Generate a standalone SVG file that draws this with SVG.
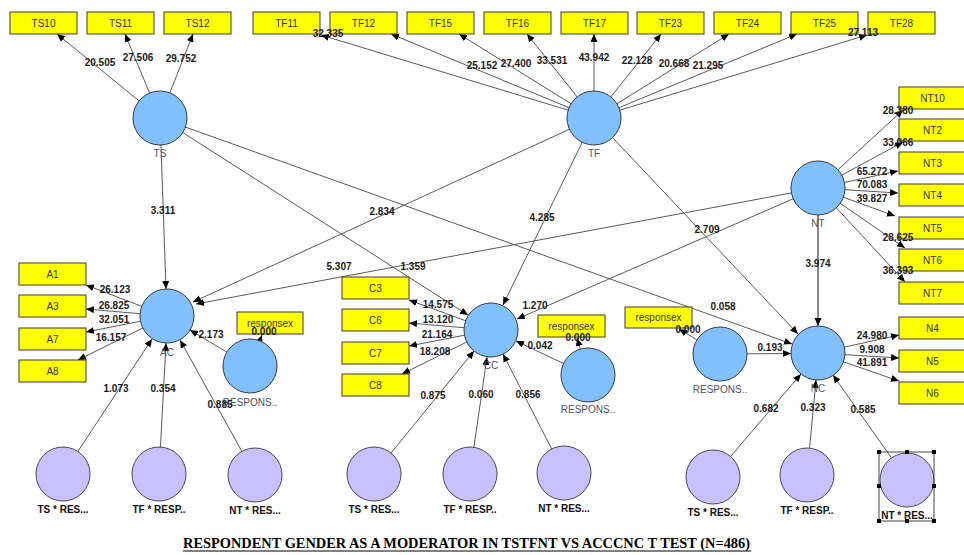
<svg xmlns="http://www.w3.org/2000/svg" width="964" height="555" viewBox="0 0 964 555">
<style>
.ln{stroke:#5a5a5a;stroke-width:1;fill:none;marker-end:url(#ah)}
.box{fill:#ffff00;stroke:#3a3a3a;stroke-width:1}
.bt{font-family:"Liberation Sans",Arial,sans-serif;font-size:10px;fill:#333;text-anchor:middle}
.lv{fill:#80c0ff;stroke:#3a3a3a;stroke-width:1}
.mod{fill:#c8c0ff;stroke:#4a4a4a;stroke-width:1}
.cl{font-family:"Liberation Sans",Arial,sans-serif;font-size:10px;fill:#4a5266;text-anchor:middle}
.num{font-family:"Liberation Sans",Arial,sans-serif;font-size:10px;font-weight:bold;fill:#1a1a1a;text-anchor:middle}
.bl{font-family:"Liberation Sans",Arial,sans-serif;font-size:10px;font-weight:bold;fill:#111;text-anchor:middle}
.hd{fill:#000}
</style>
<defs>
<marker id="ah" markerUnits="userSpaceOnUse" markerWidth="9" markerHeight="8" refX="8" refY="3.5" orient="auto">
<path d="M0,0 L8,3.5 L0,7 z" fill="#000"/>
</marker>
</defs>
<rect width="964" height="555" fill="#fff"/>
<g id="connectors">
<line class="ln" x1="160" y1="118" x2="57" y2="34"/>
<line class="ln" x1="160" y1="118" x2="125" y2="34"/>
<line class="ln" x1="160" y1="118" x2="193" y2="34"/>
<line class="ln" x1="594" y1="118" x2="321" y2="35"/>
<line class="ln" x1="594" y1="118" x2="391" y2="34"/>
<line class="ln" x1="594" y1="118" x2="459" y2="34"/>
<line class="ln" x1="594" y1="118" x2="527" y2="34"/>
<line class="ln" x1="594" y1="118" x2="594" y2="34"/>
<line class="ln" x1="594" y1="118" x2="661" y2="34"/>
<line class="ln" x1="594" y1="118" x2="729" y2="34"/>
<line class="ln" x1="594" y1="118" x2="797" y2="34"/>
<line class="ln" x1="594" y1="118" x2="867" y2="35"/>
<line class="ln" x1="818" y1="188" x2="903" y2="110"/>
<line class="ln" x1="818" y1="188" x2="903" y2="142"/>
<line class="ln" x1="818" y1="188" x2="898" y2="171"/>
<line class="ln" x1="818" y1="188" x2="898" y2="193"/>
<line class="ln" x1="818" y1="188" x2="895" y2="216"/>
<line class="ln" x1="818" y1="188" x2="905" y2="248"/>
<line class="ln" x1="818" y1="188" x2="905" y2="282"/>
<line class="ln" x1="818" y1="353" x2="899" y2="335"/>
<line class="ln" x1="818" y1="353" x2="899" y2="358"/>
<line class="ln" x1="818" y1="353" x2="899" y2="381"/>
<line class="ln" x1="167" y1="316" x2="86" y2="285"/>
<line class="ln" x1="167" y1="316" x2="86" y2="309"/>
<line class="ln" x1="167" y1="316" x2="86" y2="332"/>
<line class="ln" x1="167" y1="316" x2="78" y2="360"/>
<line class="ln" x1="491" y1="330" x2="409" y2="300"/>
<line class="ln" x1="491" y1="330" x2="409" y2="323"/>
<line class="ln" x1="491" y1="330" x2="409" y2="346"/>
<line class="ln" x1="491" y1="330" x2="402" y2="374"/>
<line class="ln" x1="160" y1="118" x2="166" y2="289"/>
<line class="ln" x1="594" y1="118" x2="193" y2="302"/>
<line class="ln" x1="818" y1="188" x2="196" y2="304"/>
<line class="ln" x1="160" y1="118" x2="468" y2="315"/>
<line class="ln" x1="160" y1="118" x2="792" y2="344"/>
<line class="ln" x1="594" y1="118" x2="503" y2="305"/>
<line class="ln" x1="594" y1="118" x2="798" y2="334"/>
<line class="ln" x1="818" y1="188" x2="517" y2="319"/>
<line class="ln" x1="818" y1="188" x2="818" y2="326" style="stroke:#111"/>
<line class="ln" x1="250" y1="366" x2="190" y2="330"/>
<line class="ln" x1="588" y1="375" x2="516" y2="341"/>
<line class="ln" x1="720" y1="354" x2="791" y2="353.5"/>
<line class="ln" x1="250" y1="366" x2="262" y2="335"/>
<line class="ln" x1="588" y1="375" x2="577" y2="338"/>
<line class="ln" x1="720" y1="354" x2="679" y2="329"/>
<line class="ln" x1="63" y1="474" x2="152" y2="339"/>
<line class="ln" x1="159" y1="474" x2="166" y2="343"/>
<line class="ln" x1="255" y1="475" x2="180" y2="340"/>
<line class="ln" x1="374" y1="474" x2="474" y2="351"/>
<line class="ln" x1="470" y1="474" x2="487" y2="357"/>
<line class="ln" x1="564" y1="473" x2="503" y2="354"/>
<line class="ln" x1="713" y1="477" x2="801" y2="374"/>
<line class="ln" x1="807" y1="475" x2="816" y2="380"/>
<line class="ln" x1="907" y1="480" x2="833" y2="375"/>
</g>
<g id="indicators">
<g id="TS10"><rect class="box" x="10" y="12" width="67" height="22"/><text class="bt" x="43.5" y="26.5">TS10</text></g>
<g id="TS11"><rect class="box" x="87" y="12" width="67" height="22"/><text class="bt" x="120.5" y="26.5">TS11</text></g>
<g id="TS12"><rect class="box" x="164" y="12" width="67" height="22"/><text class="bt" x="197.5" y="26.5">TS12</text></g>
<g id="TF11"><rect class="box" x="253" y="12" width="67" height="22"/><text class="bt" x="286.5" y="26.5">TF11</text></g>
<g id="TF12"><rect class="box" x="330" y="12" width="67" height="22"/><text class="bt" x="363.5" y="26.5">TF12</text></g>
<g id="TF15"><rect class="box" x="407" y="12" width="67" height="22"/><text class="bt" x="440.5" y="26.5">TF15</text></g>
<g id="TF16"><rect class="box" x="484" y="12" width="67" height="22"/><text class="bt" x="517.5" y="26.5">TF16</text></g>
<g id="TF17"><rect class="box" x="561" y="12" width="67" height="22"/><text class="bt" x="594.5" y="26.5">TF17</text></g>
<g id="TF23"><rect class="box" x="637" y="12" width="67" height="22"/><text class="bt" x="670.5" y="26.5">TF23</text></g>
<g id="TF24"><rect class="box" x="714" y="12" width="67" height="22"/><text class="bt" x="747.5" y="26.5">TF24</text></g>
<g id="TF25"><rect class="box" x="791" y="12" width="67" height="22"/><text class="bt" x="824.5" y="26.5">TF25</text></g>
<g id="TF28"><rect class="box" x="868" y="12" width="67" height="22"/><text class="bt" x="901.5" y="26.5">TF28</text></g>
<g id="NT10"><rect class="box" x="899" y="87" width="67" height="22"/><text class="bt" x="932.5" y="101.5">NT10</text></g>
<g id="NT2"><rect class="box" x="899" y="119" width="67" height="22"/><text class="bt" x="932.5" y="133.5">NT2</text></g>
<g id="NT3"><rect class="box" x="899" y="152" width="67" height="22"/><text class="bt" x="932.5" y="166.5">NT3</text></g>
<g id="NT4"><rect class="box" x="899" y="184" width="67" height="22"/><text class="bt" x="932.5" y="198.5">NT4</text></g>
<g id="NT5"><rect class="box" x="899" y="217" width="67" height="22"/><text class="bt" x="932.5" y="231.5">NT5</text></g>
<g id="NT6"><rect class="box" x="899" y="249" width="67" height="22"/><text class="bt" x="932.5" y="263.5">NT6</text></g>
<g id="NT7"><rect class="box" x="899" y="282" width="67" height="22"/><text class="bt" x="932.5" y="296.5">NT7</text></g>
<g id="N4"><rect class="box" x="899" y="317" width="67" height="22"/><text class="bt" x="932.5" y="331.5">N4</text></g>
<g id="N5"><rect class="box" x="899" y="350" width="67" height="22"/><text class="bt" x="932.5" y="364.5">N5</text></g>
<g id="N6"><rect class="box" x="899" y="382" width="67" height="22"/><text class="bt" x="932.5" y="396.5">N6</text></g>
<g id="A1"><rect class="box" x="19" y="263" width="67" height="22"/><text class="bt" x="52.5" y="277.5">A1</text></g>
<g id="A3"><rect class="box" x="19" y="295" width="67" height="22"/><text class="bt" x="52.5" y="309.5">A3</text></g>
<g id="A7"><rect class="box" x="19" y="328" width="67" height="22"/><text class="bt" x="52.5" y="342.5">A7</text></g>
<g id="A8"><rect class="box" x="19" y="360" width="67" height="22"/><text class="bt" x="52.5" y="374.5">A8</text></g>
<g id="C3"><rect class="box" x="342" y="277" width="67" height="22"/><text class="bt" x="375.5" y="291.5">C3</text></g>
<g id="C6"><rect class="box" x="342" y="309" width="67" height="22"/><text class="bt" x="375.5" y="323.5">C6</text></g>
<g id="C7"><rect class="box" x="342" y="342" width="67" height="22"/><text class="bt" x="375.5" y="356.5">C7</text></g>
<g id="C8"><rect class="box" x="342" y="374" width="67" height="22"/><text class="bt" x="375.5" y="388.5">C8</text></g>
<g id="responsex1"><rect class="box" x="237" y="312" width="66" height="22"/><text class="bt" x="270" y="326.5">responsex</text></g>
<g id="responsex2"><rect class="box" x="538" y="315" width="67" height="22"/><text class="bt" x="571.5" y="329.5">responsex</text></g>
<g id="responsex3"><rect class="box" x="625" y="307" width="67" height="21"/><text class="bt" x="658.5" y="321">responsex</text></g>
</g>
<g id="constructs">
<g id="TS"><circle class="lv" cx="160" cy="118" r="27"/><text class="cl" x="160" y="157">TS</text></g>
<g id="TF"><circle class="lv" cx="594" cy="118" r="27"/><text class="cl" x="594" y="157">TF</text></g>
<g id="NT"><circle class="lv" cx="818" cy="188" r="27"/><text class="cl" x="818" y="227">NT</text></g>
<g id="AC"><circle class="lv" cx="167" cy="316" r="27"/><text class="cl" x="167" y="356">AC</text></g>
<g id="CC"><circle class="lv" cx="491" cy="330" r="27"/><text class="cl" x="491" y="369">CC</text></g>
<g id="NC"><circle class="lv" cx="818" cy="353" r="27"/><text class="cl" x="818" y="392">NC</text></g>
<g id="RESPONS1"><circle class="lv" cx="250" cy="366" r="27"/><text class="cl" x="250" y="406">RESPONS..</text></g>
<g id="RESPONS2"><circle class="lv" cx="588" cy="375" r="27"/><text class="cl" x="588" y="413">RESPONS..</text></g>
<g id="RESPONS3"><circle class="lv" cx="720" cy="354" r="27"/><text class="cl" x="720" y="393">RESPONS..</text></g>
<g id="TSxR1"><circle class="mod" cx="63" cy="474" r="27"/><text class="bl" x="63" y="513">TS * RES...</text></g>
<g id="TFxR1"><circle class="mod" cx="159" cy="474" r="27"/><text class="bl" x="159" y="513">TF * RESP..</text></g>
<g id="NTxR1"><circle class="mod" cx="255" cy="475" r="27"/><text class="bl" x="255" y="514">NT * RES...</text></g>
<g id="TSxR2"><circle class="mod" cx="374" cy="474" r="27"/><text class="bl" x="374" y="513">TS * RES...</text></g>
<g id="TFxR2"><circle class="mod" cx="470" cy="474" r="27"/><text class="bl" x="470" y="513">TF * RESP..</text></g>
<g id="NTxR2"><circle class="mod" cx="564" cy="473" r="27"/><text class="bl" x="564" y="512">NT * RES...</text></g>
<g id="TSxR3"><circle class="mod" cx="713" cy="477" r="27"/><text class="bl" x="713" y="516">TS * RES...</text></g>
<g id="TFxR3"><circle class="mod" cx="807" cy="475" r="27"/><text class="bl" x="807" y="514">TF * RESP..</text></g>
<g id="NTxR3"><circle class="mod" cx="907" cy="480" r="27"/><text class="bl" x="907" y="519">NT * RES...</text>
<rect x="879" y="452" width="55" height="69" fill="none" stroke="#444" stroke-width="1"/>
<rect class="hd" x="877" y="450" width="4" height="4"/><rect class="hd" x="905" y="450" width="4" height="4"/><rect class="hd" x="932" y="450" width="4" height="4"/>
<rect class="hd" x="877" y="484" width="4" height="4"/><rect class="hd" x="932" y="484" width="4" height="4"/>
<rect class="hd" x="877" y="519" width="4" height="4"/><rect class="hd" x="905" y="519" width="4" height="4"/><rect class="hd" x="932" y="519" width="4" height="4"/>
</g>
</g>
<g id="connector-labels">
<text class="num" x="100" y="65.5">20.505</text>
<text class="num" x="138" y="60.5">27.506</text>
<text class="num" x="181" y="61.5">29.752</text>
<text class="num" x="328" y="36.5">32.335</text>
<text class="num" x="482" y="68.5">25.152</text>
<text class="num" x="516" y="66.5">27.400</text>
<text class="num" x="552" y="63.5">33.531</text>
<text class="num" x="594" y="60.5">43.942</text>
<text class="num" x="637" y="63.5">22.128</text>
<text class="num" x="674" y="66.5">20.668</text>
<text class="num" x="708" y="68.5">21.295</text>
<text class="num" x="863" y="35.5">27.113</text>
<text class="num" x="898" y="113.5">28.380</text>
<text class="num" x="898" y="145.5">33.066</text>
<text class="num" x="872" y="174.5">65.272</text>
<text class="num" x="872" y="187.5">70.083</text>
<text class="num" x="872" y="201.5">39.827</text>
<text class="num" x="898" y="240.5">28.625</text>
<text class="num" x="898" y="273.5">36.393</text>
<text class="num" x="818" y="266.5">3.974</text>
<text class="num" x="872" y="338.5">24.980</text>
<text class="num" x="872" y="352.5">9.908</text>
<text class="num" x="872" y="365.5">41.891</text>
<text class="num" x="115" y="292.5">26.123</text>
<text class="num" x="114" y="308.5">26.825</text>
<text class="num" x="114" y="322.5">32.051</text>
<text class="num" x="111" y="340.5">16.157</text>
<text class="num" x="163" y="213.5">3.311</text>
<text class="num" x="382" y="214.5">2.834</text>
<text class="num" x="339" y="269.5">5.307</text>
<text class="num" x="413" y="269.5">1.359</text>
<text class="num" x="542" y="220.5">4.285</text>
<text class="num" x="707" y="232.5">2.709</text>
<text class="num" x="535" y="308.5">1.270</text>
<text class="num" x="723" y="309.5">0.058</text>
<text class="num" x="438" y="307.5">14.575</text>
<text class="num" x="438" y="322.5">13.120</text>
<text class="num" x="437" y="337.5">21.164</text>
<text class="num" x="435" y="354.5">18.208</text>
<text class="num" x="211" y="337.5">2.173</text>
<text class="num" x="540" y="348.5">0.042</text>
<text class="num" x="770" y="350.5">0.193</text>
<text class="num" x="264" y="334.5">0.000</text>
<text class="num" x="578" y="340.5">0.000</text>
<text class="num" x="688" y="332.5">0.000</text>
<text class="num" x="116" y="391.5">1.073</text>
<text class="num" x="163" y="391.5">0.354</text>
<text class="num" x="220" y="407.5">0.885</text>
<text class="num" x="433" y="398.5">0.875</text>
<text class="num" x="481" y="397.5">0.060</text>
<text class="num" x="528" y="397.5">0.856</text>
<text class="num" x="766" y="411.5">0.682</text>
<text class="num" x="813" y="410.5">0.323</text>
<text class="num" x="863" y="412.5">0.585</text>
</g>
<g id="title">
<text x="183" y="548" font-family="'Liberation Serif','Times New Roman',serif" font-size="14" font-weight="bold" fill="#000" textLength="567" lengthAdjust="spacingAndGlyphs">RESPONDENT GENDER AS A MODERATOR IN TSTFNT VS ACCCNC T TEST (N=486)</text>
<line x1="183" y1="551" x2="751" y2="551" stroke="#000" stroke-width="1"/>
</g>
</svg>
